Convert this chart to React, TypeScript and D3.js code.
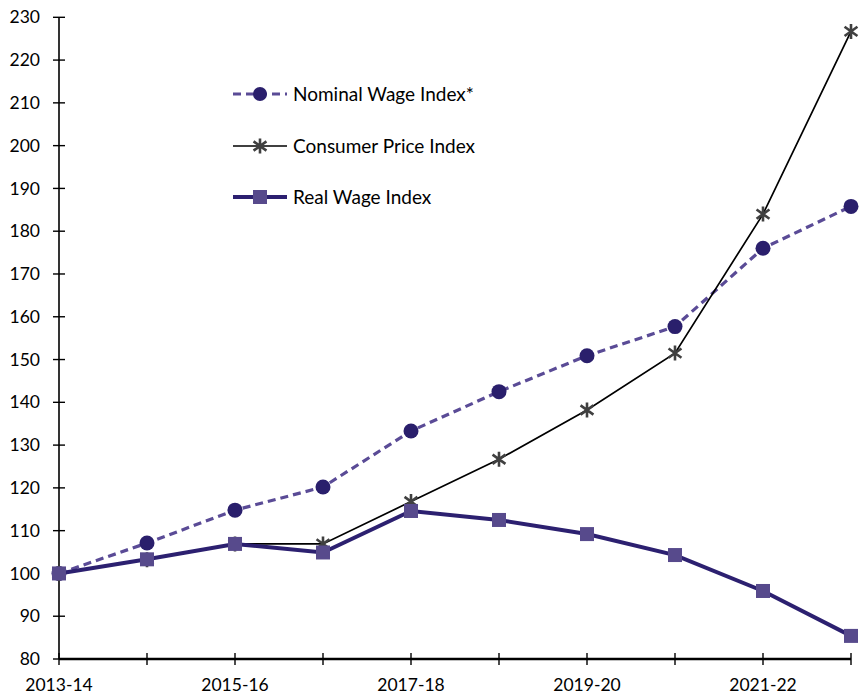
import React from "react";
import * as d3 from "d3";

const years = [
  "2013-14", "2014-15", "2015-16", "2016-17", "2017-18",
  "2018-19", "2019-20", "2020-21", "2021-22", "2022-23",
];
const nominalWage = [100, 107.1, 114.8, 120.2, 133.3, 142.5, 150.9, 157.7, 176.0, 185.8];
const consumerPrice = [100, 103.2, 106.9, 106.9, 116.8, 126.7, 138.2, 151.5, 184.0, 226.7];
const realWage = [100, 103.3, 106.9, 104.9, 114.6, 112.5, 109.2, 104.3, 95.9, 85.4];
const yTicks = [80, 90, 100, 110, 120, 130, 140, 150, 160, 170, 180, 190, 200, 210, 220, 230];
const labelledYears = ["2013-14", "2015-16", "2017-18", "2019-20", "2021-22"];

const W = 859;
const H = 694;
const FONT = "Lato, 'Open Sans', sans-serif";

const NOMINAL_LINE = "#5a4b96";
const NOMINAL_DOT = "#2a1f6c";
const CPI_LINE = "#000000";
const CPI_MARK = "#404040";
const REAL_LINE = "#2c2070";
const REAL_MARK = "#574a8c";

function Star({ cx, cy, r }: { cx: number; cy: number; r: number }) {
  const d = r * 0.86;
  return (
    <path
      d={`M${cx},${cy - r}L${cx},${cy + r}M${cx - d},${cy - d * 0.72}L${cx + d},${cy + d * 0.72}M${cx - d},${cy + d * 0.72}L${cx + d},${cy - d * 0.72}`}
      stroke={CPI_MARK}
      strokeWidth={2.6}
      fill="none"
    />
  );
}

export default function App() {
  const x = d3.scalePoint<string>().domain(years).range([59, 851]);
  const y = d3.scaleLinear().domain([80, 230]).range([659, 17.3]);

  const line = d3
    .line<number>()
    .x((_, i) => x(years[i]) as number)
    .y((v) => y(v));

  const sq = 14;
  const legendFont = 19;

  return (
    <svg
      width={W}
      height={H}
      style={{ position: "absolute", left: 0, top: 0, background: "#fff" }}
      fontFamily={FONT}
    >
      {/* y axis */}
      <line x1={59} x2={59} y1={y(230)} y2={y(80)} stroke="#000" strokeWidth={1.6} />
      {yTicks.map((t) => (
        <g key={t}>
          <line x1={53} x2={65} y1={y(t)} y2={y(t)} stroke="#000" strokeWidth={1.4} />
          <text x={40} y={y(t)} dy="0.35em" textAnchor="end" fontSize={17.5} fill="#000">
            {t}
          </text>
        </g>
      ))}

      {/* x axis */}
      <line x1={59} x2={851} y1={y(80)} y2={y(80)} stroke="#000" strokeWidth={2.4} />
      {years.map((yr) => (
        <line key={yr} x1={x(yr)} x2={x(yr)} y1={653} y2={665} stroke="#000" strokeWidth={1.4} />
      ))}
      {labelledYears.map((yr) => (
        <text key={yr} x={x(yr)} y={691} textAnchor="middle" fontSize={17.5} fill="#000">
          {yr}
        </text>
      ))}

      {/* Nominal Wage Index */}
      <path
        d={line(nominalWage) || ""}
        fill="none"
        stroke={NOMINAL_LINE}
        strokeWidth={3.2}
        strokeDasharray="8,5"
      />
      {nominalWage.map((v, i) => (
        <circle key={i} cx={x(years[i])} cy={y(v)} r={7.5} fill={NOMINAL_DOT} />
      ))}

      {/* Consumer Price Index */}
      <path d={line(consumerPrice) || ""} fill="none" stroke={CPI_LINE} strokeWidth={1.7} />
      {consumerPrice.map((v, i) => (
        <Star key={i} cx={x(years[i]) as number} cy={y(v)} r={7.5} />
      ))}

      {/* Real Wage Index */}
      <path d={line(realWage) || ""} fill="none" stroke={REAL_LINE} strokeWidth={4} />
      {realWage.map((v, i) => (
        <rect
          key={i}
          x={(x(years[i]) as number) - sq / 2}
          y={y(v) - sq / 2}
          width={sq}
          height={sq}
          fill={REAL_MARK}
        />
      ))}

      {/* legend */}
      <g>
        <line x1={233} x2={287} y1={94} y2={94} stroke={NOMINAL_LINE} strokeWidth={3.2} strokeDasharray="8,5" />
        <circle cx={260} cy={94} r={7} fill={NOMINAL_DOT} />
        <text x={293} y={94} dy="0.35em" fontSize={legendFont} fill="#000">Nominal Wage Index*</text>

        <line x1={233} x2={287} y1={146} y2={146} stroke={CPI_LINE} strokeWidth={1.7} />
        <Star cx={260} cy={146} r={7.5} />
        <text x={293} y={146} dy="0.35em" fontSize={legendFont} fill="#000">Consumer Price Index</text>

        <line x1={233} x2={287} y1={197} y2={197} stroke={REAL_LINE} strokeWidth={4} />
        <rect x={260 - sq / 2} y={197 - sq / 2} width={sq} height={sq} fill={REAL_MARK} />
        <text x={293} y={197} dy="0.35em" fontSize={legendFont} fill="#000">Real Wage Index</text>
      </g>
    </svg>
  );
}
